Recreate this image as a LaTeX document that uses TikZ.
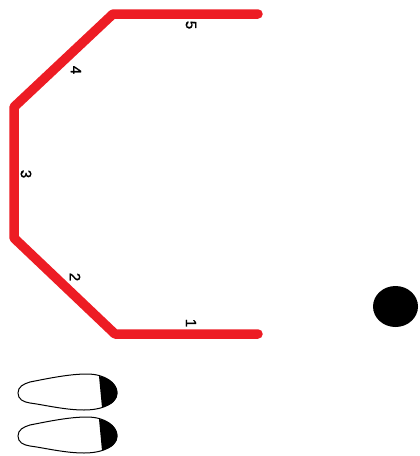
\documentclass[tikz,border=0pt]{standalone}
\usepackage{fontspec}
\setmainfont{Liberation Sans}
\newfontfamily\lblfont[FakeBold=1.2]{Liberation Sans}
\usetikzlibrary{shapes.geometric}
\tikzset{
  track/.style={draw={rgb,255:red,237;green,28;blue,36},line width=9.5pt,line cap=round,line join=round},
  lbl/.style={font=\lblfont\fontsize{15}{15}\selectfont,rotate=-90,inner sep=0pt,text=black},
  shoe/.style={draw=black,line width=1pt,fill=white},
  toe/.style={fill=black}
}
\newcommand{\shoeat}[2]{%
 \begin{scope}[shift={(#1,#2)}]
  \path[shoe] (18,393) .. controls (18,387) and (23,384) .. (30,382)
     .. controls (50,378) and (70,374) .. (87,374)
     .. controls (105,374) and (117,383) .. (117,393)
     .. controls (117,402) and (105,410) .. (84,410)
     .. controls (65,410) and (45,405) .. (30,403)
     .. controls (23,402) and (18,399) .. cycle;
  \path[toe] (99,376) .. controls (110,378) and (117.5,385) .. (117.5,393)
     .. controls (117.5,400) and (112,405) .. (102,407.5) -- cycle;
 \end{scope}}
\begin{document}
\begin{tikzpicture}[x=1pt,y=-1pt]
\useasboundingbox (0,0) rectangle (420,456);
\coordinate (a) at (258,14);
\coordinate (b) at (113,14);
\coordinate (c) at (14,107);
\coordinate (d) at (14,238);
\coordinate (e) at (115,334);
\coordinate (f) at (258,334);
\path[track] (a) -- (b) -- (c) -- (d) -- (e) -- (f);
\node[lbl] (n5) at (191,25) {5};
\node[lbl] (n4) at (76,70) {4};
\node[lbl] (n3) at (26,174) {3};
\node[lbl] (n2) at (75,277) {2};
\node[lbl] (n1) at (191,323) {1};
\node[ellipse,fill=black,minimum width=45pt,minimum height=41pt,inner sep=0pt] (ball) at (395.5,306.5) {};
\shoeat{0}{0}
\begin{scope}[yshift=-43pt]
\shoeat{0}{0}
\end{scope}
\end{tikzpicture}
\end{document}
